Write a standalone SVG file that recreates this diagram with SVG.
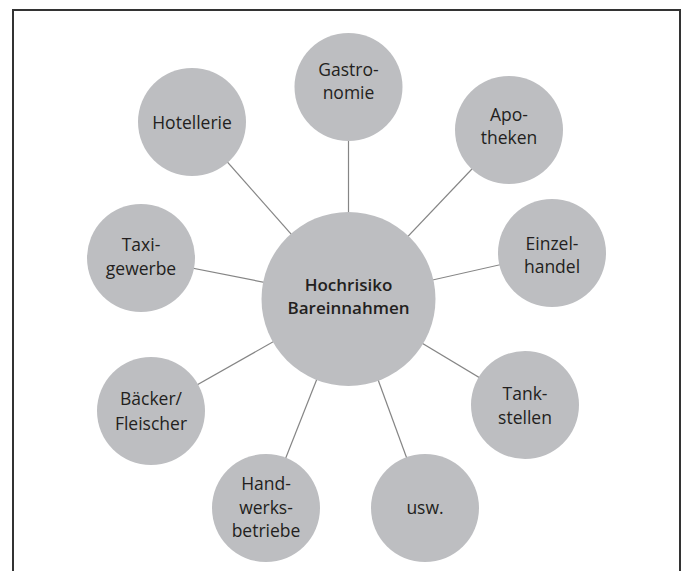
<svg xmlns="http://www.w3.org/2000/svg" width="687" height="571" viewBox="0 0 687 571">
<style>
.c{fill:#bdbec1}
.t{font-family:"Open Sans","Noto Sans","Liberation Sans",sans-serif;font-size:17.5px;fill:#231f20;text-anchor:middle}
.b{font-weight:600;font-size:17px}
.l{stroke:#858585;stroke-width:1.2;fill:none}
</style>
<rect width="687" height="571" fill="#fff"/>
<path d="M13,571 V10 H680 V571" fill="none" stroke="#333" stroke-width="2"/>
<g id="connectors">
<line class="l" x1="348.5" y1="299" x2="348.5" y2="87"/>
<line class="l" x1="348.5" y1="299" x2="192" y2="122"/>
<line class="l" x1="348.5" y1="299" x2="509" y2="130"/>
<line class="l" x1="348.5" y1="299" x2="552" y2="253"/>
<line class="l" x1="348.5" y1="299" x2="141" y2="258"/>
<line class="l" x1="348.5" y1="299" x2="525" y2="405"/>
<line class="l" x1="348.5" y1="299" x2="151" y2="411"/>
<line class="l" x1="348.5" y1="299" x2="266" y2="508"/>
<line class="l" x1="348.5" y1="299" x2="425" y2="508"/>
</g>
<g id="center"><circle class="c" cx="348.5" cy="299" r="87"/><text class="t b" x="348.5" y="291">Hochrisiko</text><text class="t b" x="348.5" y="314">Bareinnahmen</text></g>
<g id="gastronomie"><circle class="c" cx="348.5" cy="87" r="54"/><text class="t" x="348.5" y="76">Gastro-</text><text class="t" x="348.5" y="99">nomie</text></g>
<g id="hotellerie"><circle class="c" cx="192" cy="122" r="54"/><text class="t" x="192" y="129">Hotellerie</text></g>
<g id="apotheken"><circle class="c" cx="509" cy="130" r="54"/><text class="t" x="509" y="121">Apo-</text><text class="t" x="509" y="144">theken</text></g>
<g id="einzelhandel"><circle class="c" cx="552" cy="253" r="54"/><text class="t" x="552" y="250">Einzel-</text><text class="t" x="552" y="273">handel</text></g>
<g id="taxigewerbe"><circle class="c" cx="141" cy="258" r="54"/><text class="t" x="141" y="251">Taxi-</text><text class="t" x="141" y="275">gewerbe</text></g>
<g id="tankstellen"><circle class="c" cx="525" cy="405" r="54"/><text class="t" x="525" y="400">Tank-</text><text class="t" x="525" y="424">stellen</text></g>
<g id="baecker"><circle class="c" cx="151" cy="411" r="54"/><text class="t" x="151" y="405">Bäcker/</text><text class="t" x="151" y="430">Fleischer</text></g>
<g id="handwerksbetriebe"><circle class="c" cx="266" cy="508" r="54"/><text class="t" x="266" y="490">Hand-</text><text class="t" x="266" y="514">werks-</text><text class="t" x="266" y="537">betriebe</text></g>
<g id="usw"><circle class="c" cx="425" cy="508" r="54"/><text class="t" x="425" y="514">usw.</text></g>
</svg>
